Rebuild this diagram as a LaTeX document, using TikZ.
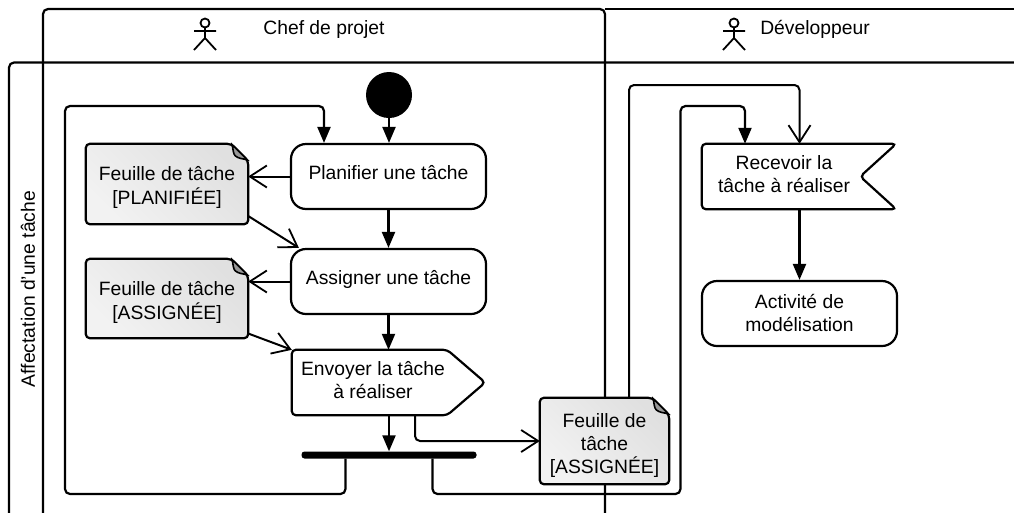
\documentclass[tikz,border=0pt]{standalone}
\usepackage{fontspec}
\setmainfont{Liberation Sans}
\usetikzlibrary{arrows.meta,calc,positioning}
\pgfdeclarelayer{lanelayer}
\pgfdeclarelayer{shapelayer}
\pgfsetlayers{lanelayer,shapelayer,main}
\definecolor{ink}{HTML}{000000}
\definecolor{docA}{HTML}{F2F2F2}
\definecolor{docB}{HTML}{E0E0E0}
\definecolor{foldc}{HTML}{999999}
\newcommand{\boxtxt}[2][0pt]{\raisebox{#1}[\height][\depth]{\begin{tabular}{@{}c@{}}#2\end{tabular}}}
\newcommand{\docshape}[1]{%
  \begin{pgfonlayer}{shapelayer}
    \path[docedge,top color=docA,bottom color=docB,shading angle=135,draw]
      (#1.north west) -- ([xshift=-17pt]#1.north east) -- ([yshift=-17pt]#1.north east)
      -- (#1.south east) -- (#1.south west) -- cycle;
    \draw[line width=1.6pt,fill=foldc]
      ([xshift=-16pt,yshift=-1pt]#1.north east) .. controls ([xshift=-15pt,yshift=-6pt]#1.north east) and ([xshift=-15pt,yshift=-10pt]#1.north east) .. ([xshift=-13pt,yshift=-12pt]#1.north east)
      .. controls ([xshift=-10pt,yshift=-15pt]#1.north east) and ([xshift=-4pt,yshift=-15pt]#1.north east) .. ([xshift=-1pt,yshift=-16pt]#1.north east) -- cycle;
  \end{pgfonlayer}}
\tikzset{
  lane/.style={line width=2.2pt,draw=ink,rounded corners=5pt},
  txt/.style={font=\fontsize{19.3}{23}\selectfont,inner sep=0pt,align=center,text=ink},
  lanetxt/.style={font=\fontsize{19.3}{23}\selectfont,inner sep=0pt,text=ink},
  action/.style={txt,draw=ink,line width=2.2pt,rounded corners=15pt,fill=white,minimum width=195pt,minimum height=65pt},
  plainbox/.style={txt,minimum width=#1,minimum height=65pt},
  docnode/.style={txt,minimum width=162pt,minimum height=80pt},
  docedge/.style={line width=2.2pt,draw=ink,rounded corners=4pt},
  edgeshape/.style={line width=2.2pt,draw=ink,fill=white,rounded corners=4pt},
  flow/.style={line width=2.2pt,draw=ink,rounded corners=5pt,-{Stealth[length=16pt,width=13pt,inset=0pt]}},
  objflow/.style={line width=2pt,draw=ink,rounded corners=5pt,-{Straight Barb[length=17pt,width=22pt,line width=1.8pt]}},
  actorline/.style={line width=1.8pt,draw=ink}
}
\begin{document}
\begin{tikzpicture}[x=1pt,y=-1pt]
\useasboundingbox (0,0) rectangle (1014,512);
\begin{pgfonlayer}{lanelayer}
  \fill[white] (0,0) rectangle (1014,512);
  \draw[lane] (43,520) -- (43,9) -- (605,9) -- (605,520);
  \draw[lane] (605,9) -- (1030,9);
  \draw[lane] (9,520) -- (9,62.5) -- (1030,62.5);
\end{pgfonlayer}

% lane titles
\node[lanetxt] (chef) at (324,29.5) {Chef de projet};
\node[lanetxt] (dev) at (815,29.5) {Développeur};
\node[lanetxt,rotate=90] (aff) at (28,289) {Affectation d'une tâche};

% actors
\draw[actorline] (205,23) circle (4.5);
\draw[actorline] (194,31) -- (216,31) (205,27.5) -- (205,38) (194,50) -- (205,38) -- (216,50);
\draw[actorline] (734,23) circle (4.5);
\draw[actorline] (723,31) -- (745,31) (734,27.5) -- (734,38) (723,50) -- (734,38) -- (745,50);

% nodes
\node[circle,fill=ink,minimum size=46pt,inner sep=0pt] (start) at (389,95) {};
\node[action] (plan) at (388.5,176.5) {\boxtxt[2pt]{Planifier une tâche}};
\node[action] (assign) at (388.5,281.5) {\boxtxt[2pt]{Assigner une tâche}};
\node[plainbox=162pt] (send) at (373,382.5) {\boxtxt[0.5pt]{Envoyer la tâche\\à réaliser}};
\node[fill=ink,rounded corners=3pt,minimum width=175pt,minimum height=7pt,inner sep=0pt] (bar) at (389,455) {};
\node[docnode] (docA) at (167,184) {\boxtxt[-4pt]{Feuille de tâche\\{[}PLANIFIÉE{]}}};
\node[docnode,minimum height=79pt] (docB) at (167,298.5) {\boxtxt[-4.5pt]{Feuille de tâche\\{[}ASSIGNÉE{]}}};
\node[docnode,minimum width=129pt,minimum height=86pt] (docC) at (604.5,441) {\boxtxt[-5pt]{Feuille de\\tâche\\{[}ASSIGNÉE{]}}};
\node[plainbox=164pt] (recv) at (784,176.5) {\boxtxt[0.5pt]{Recevoir la\\tâche à réaliser}};
\node[action] (model) at (799.5,313.5) {\boxtxt[-2pt]{Activité de\\modélisation}};

\docshape{docA}
\docshape{docB}
\docshape{docC}

\begin{pgfonlayer}{shapelayer}
  \draw[edgeshape] (send.north west) -- ([xshift=-7pt]send.north east) -- ([xshift=31pt]send.east) -- ([xshift=-7pt]send.south east) -- (send.south west) -- cycle;
  \draw[edgeshape] (recv.north west) -- ([xshift=30pt]recv.north east) -- ([xshift=-6pt]recv.east) -- ([xshift=30pt]recv.south east) -- (recv.south west) -- cycle;
\end{pgfonlayer}

% control flows
\draw[flow] (start) -- (plan.north -| start);
\draw[flow] (plan.south) -- (assign.north);
\draw[flow] (assign.south) -- (assign.south |- send.north);
\draw[flow] (send.south -| bar) -- (bar.north);
\draw[flow] (recv.south -| model) -- (model.north);
\coordinate (loopLL) at (65,494);
\coordinate (loopLT) at (65,106);
\coordinate (loopRB) at (680.5,494);
\coordinate (loopRT) at (680.5,106);
\coordinate (recvT) at (629,85);
\draw[flow] ([xshift=-43.5pt]bar.south) |- (loopLL) -- (loopLT) -| ([xshift=-64.5pt]plan.north);
\draw[flow] ([xshift=43.5pt]bar.south) |- (loopRB) -- (loopRT) -| ([xshift=-39pt]recv.north);

% object flows
\draw[objflow] (plan.west) -- (plan.west -| docA.east);
\draw[objflow] (assign.west) -- (assign.west -| docB.east);
\draw[objflow] ([yshift=-32pt]docA.east) -- ([xshift=9pt]assign.north west);
\draw[objflow] ([yshift=-35pt]docB.east) -- (send.north west);
\draw[objflow] ([xshift=42pt]send.south) |- (docC.west);
\draw[objflow] (recvT |- docC.north) -- (recvT) -| (recv.north -| model);
\end{tikzpicture}
\end{document}
